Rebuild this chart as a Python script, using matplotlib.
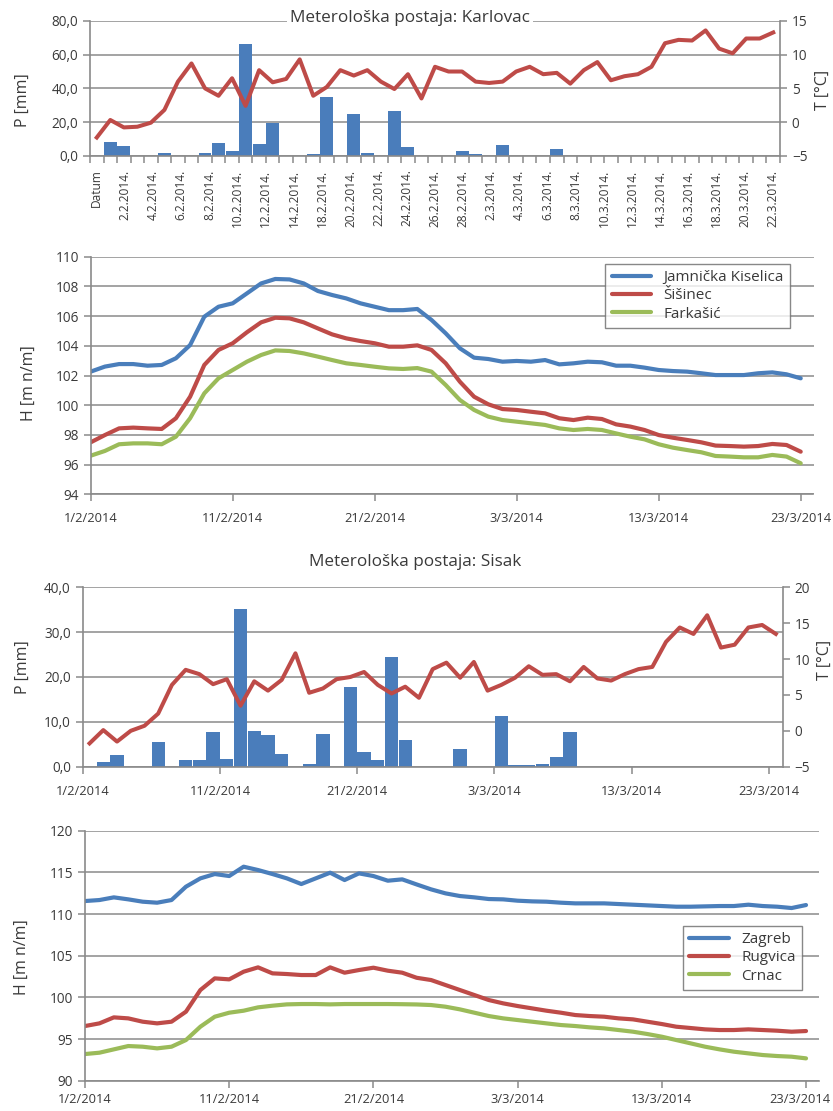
import numpy as np
import matplotlib
matplotlib.use("Agg")
import matplotlib.pyplot as plt
import matplotlib.transforms as mtransforms

plt.rcParams['font.family'] = ['Open Sans', 'DejaVu Sans']

W, H = 833, 1111
TXT = '#3a3a3a'
GRID = '#8a8a8a'
BAR = '#4a7dbb'
RED = '#be4b48'
BLUE = '#4a7ebb'
GREEN = '#9bbb59'
TICK_FS = 9.8
DATE_FS = 9.3

# ---------------- Karlovac: precipitation and temperature ----------------
karlovac_labels = ['Datum', '2.2.2014.', '4.2.2014.', '6.2.2014.', '8.2.2014.', '10.2.2014.',
                   '12.2.2014.', '14.2.2014.', '18.2.2014.', '20.2.2014.', '22.2.2014.',
                   '24.2.2014.', '26.2.2014.', '28.2.2014.', '2.3.2014.', '4.3.2014.',
                   '6.3.2014.', '8.3.2014.', '10.3.2014.', '12.3.2014.', '14.3.2014.',
                   '16.3.2014.', '18.3.2014.', '20.3.2014.', '22.3.2014.']
karlovac_p = [0, 8.3, 6.0, 0, 0, 1.8, 0, 0, 1.6, 7.3,
              2.8, 66.3, 7.0, 19.7, 0, 0, 0.8, 35.1, 0, 25.0,
              1.6, 0, 26.8, 5.4, 0, 0, 0, 3.0, 1.2, 0,
              6.4, 0, 0, 0, 3.8, 0, 0, 0, 0, 0,
              0, 0, 0, 0, 0, 0, 0, 0, 0, 0, 0]
karlovac_t = [-2.3, 0.3, -0.8, -0.7, -0.1, 1.8, 6.0, 8.7, 5.0, 3.9,
              6.5, 2.4, 7.7, 5.9, 6.4, 9.3, 3.9, 5.2, 7.7, 6.9,
              7.7, 6.0, 4.9, 7.1, 3.5, 8.2, 7.5, 7.5, 6.0, 5.8,
              6.0, 7.5, 8.2, 7.1, 7.3, 5.7, 7.7, 8.9, 6.2, 6.8,
              7.1, 8.2, 11.7, 12.2, 12.1, 13.6, 10.9, 10.2, 12.4, 12.4, 13.3]

# ---------------- Kupa basin water levels ----------------
date_labels = ['1/2/2014', '11/2/2014', '21/2/2014', '3/3/2014', '13/3/2014', '23/3/2014']
date_ticks = [0, 10, 20, 30, 40, 50]

jamnicka = [102.26, 102.6, 102.77, 102.77, 102.66, 102.71, 103.16, 104.05, 105.96, 106.63,
            106.86, 107.53, 108.2, 108.5, 108.47, 108.2, 107.69, 107.42, 107.19, 106.86,
            106.63, 106.4, 106.4, 106.48, 105.74, 104.84, 103.83, 103.2, 103.11, 102.93,
            102.98, 102.93, 103.04, 102.75, 102.82, 102.93, 102.89, 102.66, 102.66, 102.53,
            102.37, 102.3, 102.26, 102.15, 102.03, 102.03, 102.03, 102.15, 102.21, 102.08, 101.81]
sisinec = [97.5, 97.99, 98.44, 98.49, 98.44, 98.4, 99.12, 100.57, 102.71, 103.72,
           104.17, 104.91, 105.58, 105.89, 105.85, 105.58, 105.17, 104.77, 104.5, 104.32,
           104.17, 103.94, 103.94, 104.03, 103.72, 102.82, 101.58, 100.57, 100.06, 99.74,
           99.68, 99.56, 99.45, 99.12, 99.0, 99.16, 99.07, 98.71, 98.56, 98.33,
           97.99, 97.81, 97.66, 97.5, 97.28, 97.25, 97.21, 97.25, 97.39, 97.32, 96.87]
farkasic = [96.6, 96.92, 97.37, 97.43, 97.43, 97.37, 97.88, 99.12, 100.8, 101.81,
            102.37, 102.93, 103.38, 103.69, 103.65, 103.49, 103.27, 103.04, 102.82, 102.71,
            102.59, 102.48, 102.44, 102.5, 102.26, 101.36, 100.35, 99.68, 99.23, 99.0,
            98.89, 98.78, 98.67, 98.44, 98.33, 98.4, 98.33, 98.1, 97.88, 97.7,
            97.37, 97.14, 96.98, 96.83, 96.58, 96.54, 96.49, 96.49, 96.65, 96.54, 96.09]

# ---------------- Sisak: precipitation and temperature ----------------
sisak_p = [0, 1.0, 2.6, 0, 0, 5.6, 0, 1.4, 1.5, 7.8,
           1.7, 35.1, 8.0, 7.1, 2.8, 0, 0.5, 7.3, 0, 17.7,
           3.3, 1.6, 24.5, 5.9, 0, 0, 0, 3.9, 0, 0,
           11.4, 0.3, 0.3, 0.6, 2.1, 7.8, 0, 0, 0, 0,
           0, 0, 0, 0, 0, 0, 0, 0, 0, 0, 0]
sisak_t = [-1.75, 0.1, -1.5, 0.0, 0.7, 2.4, 6.4, 8.5, 7.9, 6.5,
           7.2, 3.5, 6.9, 5.6, 7.1, 10.8, 5.3, 5.9, 7.2, 7.5,
           8.2, 6.4, 5.2, 6.15, 4.6, 8.6, 9.5, 7.4, 9.6, 5.6,
           6.4, 7.4, 9.0, 7.8, 7.9, 6.9, 8.9, 7.3, 7.0, 7.9,
           8.6, 8.9, 12.4, 14.4, 13.5, 16.1, 11.6, 12.0, 14.4, 14.75, 13.5]

# ---------------- Sava basin water levels ----------------
zagreb = [111.56, 111.68, 112.0, 111.76, 111.48, 111.36, 111.68, 113.28, 114.28, 114.8,
          114.56, 115.68, 115.28, 114.8, 114.28, 113.6, 114.28, 114.96, 114.08, 114.88,
          114.56, 114.0, 114.16, 113.55, 112.96, 112.48, 112.16, 112.0, 111.8, 111.76,
          111.6, 111.52, 111.48, 111.36, 111.28, 111.28, 111.28, 111.2, 111.12, 111.04,
          110.96, 110.88, 110.88, 110.92, 110.96, 110.96, 111.12, 110.96, 110.88, 110.72, 111.08]
rugvica = [96.56, 96.88, 97.6, 97.48, 97.08, 96.88, 97.08, 98.28, 100.88, 102.28,
           102.16, 103.08, 103.6, 102.88, 102.8, 102.68, 102.68, 103.6, 102.96, 103.28,
           103.56, 103.2, 102.96, 102.35, 102.08, 101.48, 100.88, 100.28, 99.68, 99.28,
           98.96, 98.68, 98.4, 98.16, 97.88, 97.76, 97.68, 97.48, 97.36, 97.08,
           96.8, 96.48, 96.32, 96.16, 96.08, 96.08, 96.16, 96.08, 96.0, 95.88, 95.96]
crnac = [93.2, 93.36, 93.76, 94.16, 94.08, 93.88, 94.08, 94.88, 96.48, 97.68,
         98.16, 98.4, 98.8, 99.0, 99.16, 99.2, 99.2, 99.16, 99.2, 99.2,
         99.2, 99.2, 99.18, 99.15, 99.08, 98.88, 98.56, 98.16, 97.76, 97.48,
         97.28, 97.08, 96.88, 96.68, 96.56, 96.4, 96.28, 96.08, 95.88, 95.6,
         95.28, 94.88, 94.48, 94.08, 93.76, 93.48, 93.28, 93.08, 92.96, 92.88, 92.68]


def comma(v, nd=1):
    return f"{v:.{nd}f}".replace('.', ',')


def make_axes(fig, l, r, t, b):
    return fig.add_axes([l / W, 1 - b / H, (r - l) / W, (b - t) / H])


def style(ax):
    ax.set_facecolor('none')
    for s in ['top', 'right']:
        ax.spines[s].set_visible(False)
    for s in ['left', 'bottom']:
        ax.spines[s].set_color(GRID)
        ax.spines[s].set_linewidth(1.2)
    ax.tick_params(colors=GRID, labelcolor=TXT, length=5, width=1.1, labelsize=TICK_FS)
    ax.yaxis.grid(True, color=GRID, linewidth=1.1)
    ax.set_axisbelow(True)


def style_right(axr):
    for s in ['top', 'left', 'bottom']:
        axr.spines[s].set_visible(False)
    axr.spines['right'].set_color(GRID)
    axr.spines['right'].set_linewidth(1.2)
    axr.tick_params(colors=GRID, labelcolor=TXT, length=5, width=1.1, labelsize=TICK_FS)


def style_legend(leg):
    leg.get_frame().set_edgecolor('#6a6a6a')
    leg.get_frame().set_linewidth(1.0)
    for t in leg.get_texts():
        t.set_color(TXT)


def nudge_last_label(fig, ax, dx_px):
    lab = ax.get_xticklabels()[-1]
    offset = mtransforms.ScaledTranslation(dx_px / fig.dpi, 0, fig.dpi_scale_trans)
    lab.set_transform(lab.get_transform() + offset)


fig = plt.figure(figsize=(W / 100, H / 100), dpi=100)

# ======== Chart 1: Karlovac ========
ax1 = make_axes(fig, 90, 780, 21, 155.7)
style(ax1)
n1 = len(karlovac_t)
x1 = np.arange(n1)
ax1.bar(x1, karlovac_p, width=0.96, color=BAR, zorder=2)
ax1.set_xlim(-0.5, n1 - 0.5)
ax1.set_ylim(0, 80)
ax1.set_yticks(np.arange(0, 81, 20))
ax1.set_yticklabels([comma(v) for v in np.arange(0, 81, 20)])
ax1.xaxis.remove_overlapping_locs = False
ax1.set_xticks(np.arange(-0.5, n1, 1))
ax1.set_xticklabels([])
ax1.set_xticks(np.linspace(0, n1 - 1, len(karlovac_labels)), minor=True)
ax1.set_xticklabels(karlovac_labels, minor=True, rotation=90, fontsize=8.6)
ax1.tick_params(axis='x', which='minor', length=0, pad=10, labelcolor=TXT)
ax1.set_ylabel('P [mm]', fontsize=11.5, color=TXT)
ax1.yaxis.set_label_coords(-0.0855, 0.41)

ax1r = ax1.twinx()
style_right(ax1r)
ax1r.plot(x1, karlovac_t, color=RED, lw=2.9, solid_joinstyle='round', zorder=3)
ax1r.set_ylim(-5, 15)
ax1r.set_yticks(np.arange(-5, 16, 5))
ax1r.set_ylabel('T [°C]', fontsize=11.5, color=TXT)
ax1r.yaxis.set_label_coords(1.05, 0.49)

fig.text(410 / W, 1 - 18 / H, 'Meterološka postaja: Karlovac', ha='center', va='center',
         fontsize=12.3, color=TXT,
         bbox=dict(facecolor='white', edgecolor='none', pad=2.0), zorder=10)

# ======== Chart 2: Kupa water levels ========
ax2 = make_axes(fig, 90.7, 813.5, 256.7, 494.3)
style(ax2)
d = np.arange(len(jamnicka))
ax2.plot(d, jamnicka, color=BLUE, lw=3.0, solid_capstyle='round', label='Jamnička Kiselica')
ax2.plot(d, sisinec, color=RED, lw=3.0, solid_capstyle='round', label='Šišinec')
ax2.plot(d, farkasic, color=GREEN, lw=3.0, solid_capstyle='round', label='Farkašić')
ax2.set_xlim(0, 50.9)
ax2.set_ylim(94, 110)
ax2.set_yticks(np.arange(94, 111, 2))
ax2.set_xticks(date_ticks)
ax2.set_xticklabels(date_labels, fontsize=DATE_FS)
ax2.tick_params(axis='x', pad=8)
ax2.set_ylabel('H [m n/m]', fontsize=11.5, color=TXT)
ax2.yaxis.set_label_coords(-0.0743, 0.47)
leg2 = ax2.legend(loc='upper right', bbox_to_anchor=(790 / W, 1 - 264 / H),
                  bbox_transform=fig.transFigure, fontsize=11, frameon=True, fancybox=False,
                  handlelength=2.6, borderaxespad=0, labelspacing=0.22, borderpad=0.4)
style_legend(leg2)

# ======== Chart 3: Sisak ========
ax3 = make_axes(fig, 82.7, 782.7, 587.3, 766.7)
style(ax3)
n3 = len(sisak_t)
x3 = np.arange(n3) + 0.5
ax3.bar(x3, sisak_p, width=0.97, color=BAR, zorder=2)
ax3.set_xlim(0, n3)
ax3.set_ylim(0, 40)
ax3.set_yticks(np.arange(0, 41, 10))
ax3.set_yticklabels([comma(v) for v in np.arange(0, 41, 10)])
ax3.set_xticks(date_ticks)
ax3.set_xticklabels(date_labels, fontsize=DATE_FS)
ax3.tick_params(axis='x', pad=8)
ax3.set_ylabel('P [mm]', fontsize=11.5, color=TXT)
ax3.yaxis.set_label_coords(-0.0739, 0.557)

ax3r = ax3.twinx()
style_right(ax3r)
ax3r.plot(x3, sisak_t, color=RED, lw=2.9, solid_joinstyle='round', zorder=3)
ax3r.set_ylim(-5, 20)
ax3r.set_yticks(np.arange(-5, 21, 5))
ax3r.set_ylabel('T [°C]', fontsize=11.5, color=TXT)
ax3r.yaxis.set_label_coords(1.049, 0.595)

fig.text(415 / W, 1 - 562 / H, 'Meterološka postaja: Sisak', ha='center', va='center',
         fontsize=12.3, color=TXT)

# ======== Chart 4: Sava water levels ========
ax4 = make_axes(fig, 85, 819, 830.7, 1080.7)
style(ax4)
d4 = np.arange(len(zagreb))
ax4.plot(d4, zagreb, color=BLUE, lw=3.0, solid_capstyle='round', label='Zagreb')
ax4.plot(d4, rugvica, color=RED, lw=3.0, solid_capstyle='round', label='Rugvica')
ax4.plot(d4, crnac, color=GREEN, lw=3.0, solid_capstyle='round', label='Crnac')
ax4.set_xlim(0, 50.9)
ax4.set_ylim(90, 120)
ax4.set_yticks(np.arange(90, 121, 5))
ax4.set_xticks(date_ticks)
ax4.set_xticklabels(date_labels, fontsize=DATE_FS)
ax4.tick_params(axis='x', pad=4)
nudge_last_label(fig, ax4, -6)
ax4.set_ylabel('H [m n/m]', fontsize=11.5, color=TXT)
ax4.yaxis.set_label_coords(-0.075, 0.496)
leg4 = ax4.legend(loc='upper right', bbox_to_anchor=(802 / W, 1 - 926 / H),
                  bbox_transform=fig.transFigure, fontsize=11, frameon=True, fancybox=False,
                  handlelength=2.6, borderaxespad=0, labelspacing=0.22, borderpad=0.4)
style_legend(leg4)

fig.savefig('out.png', dpi=100, facecolor='white')
